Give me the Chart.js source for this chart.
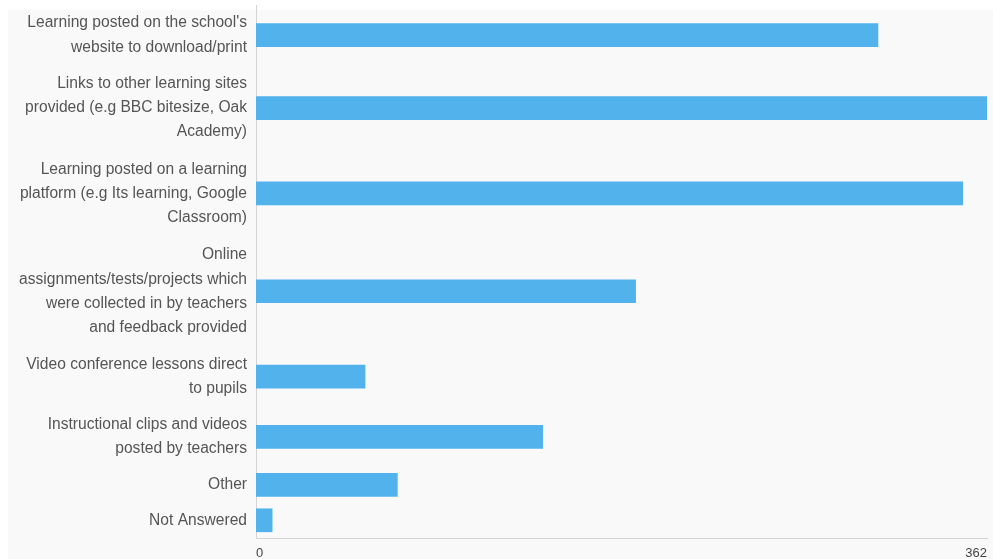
<!DOCTYPE html>
<html>
<head>
<meta charset="utf-8">
<script src="https://cdn.jsdelivr.net/npm/chart.js@4/dist/chart.umd.min.js"></script>
<style>
  html, body { margin: 0; padding: 0; background: #ffffff; }
  #wrap { position: relative; width: 993px; height: 559px; overflow: hidden; }
  #panel { position: absolute; left: 8px; top: 10px; right: 0; bottom: 0; background: #f9f9f9; }
  #chart { position: absolute; left: 0; top: 0; }
</style>
</head>
<body>
<div id="wrap">
  <div id="panel"></div>
  <canvas id="chart" width="993" height="559"></canvas>
</div>
<script>
// Survey answers: how was remote learning delivered?
const categories = [
  ["Learning posted on the school's", "website to download/print"],
  ["Links to other learning sites", "provided (e.g BBC bitesize, Oak", "Academy)"],
  ["Learning posted on a learning", "platform (e.g Its learning, Google", "Classroom)"],
  ["Online", "assignments/tests/projects which", "were collected in by teachers", "and feedback provided"],
  ["Video conference lessons direct", "to pupils"],
  ["Instructional clips and videos", "posted by teachers"],
  ["Other"],
  ["Not Answered"]
];
const responses = [308, 362, 350, 188, 54, 142, 70, 8];
const xTickValues = [0, 362];

// Each row takes room in proportion to the number of lines in its label.
const ROW_GAP = 0.42;
const rowSpan = categories.map(c => c.length + ROW_GAP);
const rowCenter = [];
let acc = 0;
rowSpan.forEach(s => { rowCenter.push(acc + s / 2); acc += s; });
const rowTotal = acc;

const points = responses.map((v, i) => ({ x: v, y: rowCenter[i] }));

const noEdgePadding = s => {
  s.paddingTop = 0; s.paddingBottom = 0; s.paddingLeft = 0; s.paddingRight = 0;
};

new Chart(document.getElementById('chart'), {
  type: 'bar',
  data: {
    datasets: [{
      data: points,
      backgroundColor: '#52b2ec',
      borderWidth: 0,
      barThickness: 23
    }]
  },
  options: {
    indexAxis: 'y',
    responsive: false,
    animation: false,
    layout: { padding: { top: 5, right: 6, left: 0, bottom: 0 } },
    plugins: { legend: { display: false }, tooltip: { enabled: false } },
    scales: {
      y: {
        type: 'linear',
        reverse: true,
        offset: false,
        min: 0,
        max: rowTotal,
        afterFit: s => { s.width = 256; noEdgePadding(s); },
        afterBuildTicks: s => { s.ticks = rowCenter.map(v => ({ value: v })); },
        grid: { display: false, drawTicks: false, offset: false },
        border: { display: true, color: '#d4d4d4', width: 1 },
        ticks: {
          padding: 9,
          autoSkip: false,
          color: '#555555',
          font: { family: 'Liberation Sans, Arial, sans-serif', size: 15.6, lineHeight: 1.54 },
          callback: v => {
            const i = rowCenter.findIndex(c => Math.abs(c - v) < 1e-6);
            return i >= 0 ? categories[i] : '';
          }
        }
      },
      x: {
        type: 'linear',
        min: 0,
        max: 362,
        afterFit: s => { s.height = 21; noEdgePadding(s); },
        afterBuildTicks: s => { s.ticks = xTickValues.map(v => ({ value: v })); },
        grid: { display: false, drawTicks: false },
        border: { display: true, color: '#d4d4d4', width: 1 },
        ticks: {
          align: 'inner',
          padding: 8,
          maxRotation: 0,
          autoSkip: false,
          color: '#444444',
          font: { family: 'Liberation Sans, Arial, sans-serif', size: 13 }
        }
      }
    }
  }
});
</script>
</body>
</html>
